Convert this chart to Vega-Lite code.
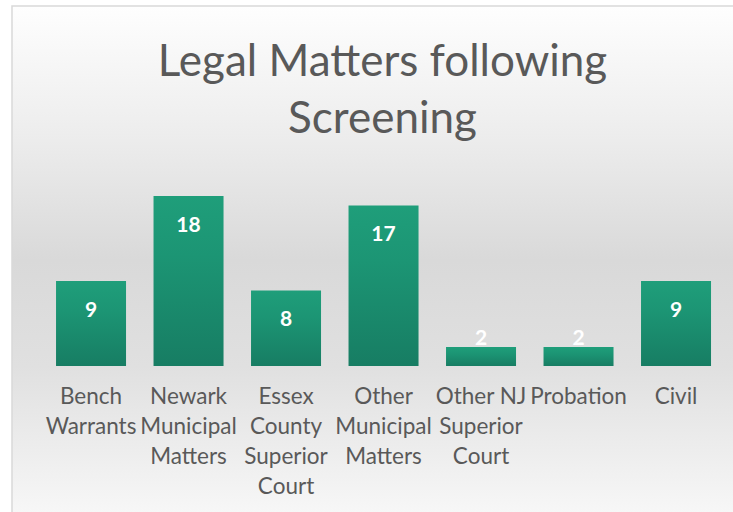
{
  "$schema": "https://vega.github.io/schema/vega-lite/v6.json",
  "width": 725,
  "height": 508,
  "autosize": {"type": "none"},
  "padding": {"left": 12, "top": 6, "right": 0, "bottom": 0},
  "background": "#ffffff",
  "config": {
    "view": {
      "stroke": "#d9d9d9",
      "strokeWidth": 1.5,
      "fill": {
        "gradient": "linear",
        "x1": 0, "y1": 0, "x2": 0, "y2": 1,
        "stops": [
          {"offset": 0, "color": "#fefefe"},
          {"offset": 0.265, "color": "#ececec"},
          {"offset": 0.5, "color": "#d9d9d9"},
          {"offset": 0.71, "color": "#e0e0e0"},
          {"offset": 1, "color": "#f7f7f7"}
        ]
      }
    }
  },
  "title": {
    "text": ["Legal Matters following", "Screening"],
    "font": "Lato",
    "fontSize": 44,
    "fontWeight": "normal",
    "color": "#595959",
    "lineHeight": 57,
    "anchor": "middle",
    "frame": "group",
    "baseline": "top",
    "offset": -136,
    "dx": 8
  },
  "data": {
    "values": [
      {"label": "Bench|Warrants", "value": 9},
      {"label": "Newark|Municipal|Matters", "value": 18},
      {"label": "Essex|County|Superior|Court", "value": 8},
      {"label": "Other|Municipal|Matters", "value": 17},
      {"label": "Other NJ|Superior|Court", "value": 2},
      {"label": "Probation", "value": 2},
      {"label": "Civil", "value": 9}
    ]
  },
  "encoding": {
    "x": {
      "field": "label",
      "type": "nominal",
      "sort": null,
      "scale": {"paddingInner": 0.282, "paddingOuter": 0.359, "align": 0.629},
      "axis": {
        "title": null,
        "labelExpr": "split(datum.value, '|')",
        "labelAngle": 0,
        "labelFont": "Lato",
        "labelFontSize": 22.5,
        "labelColor": "#595959",
        "labelLineHeight": 30,
        "labelBaseline": "top",
        "labelPadding": 19,
        "labelOverlap": false,
        "labelLimit": 0,
        "domain": false,
        "ticks": false,
        "grid": false,
        "offset": -148
      }
    }
  },
  "layer": [
    {
      "mark": {
        "type": "bar",
        "color": {
          "gradient": "linear",
          "x1": 0, "y1": 0, "x2": 0, "y2": 1,
          "stops": [
            {"offset": 0, "color": "#1f9e7a"},
            {"offset": 0.35, "color": "#1c9574"},
            {"offset": 1, "color": "#177d63"}
          ]
        }
      },
      "encoding": {
        "y": {
          "field": "value",
          "type": "quantitative",
          "scale": {"domain": [-15.67, 38.12], "nice": false, "zero": false},
          "axis": null
        },
        "y2": {"datum": 0}
      }
    },
    {
      "mark": {
        "type": "text",
        "font": "Lato",
        "fontSize": 21,
        "fontWeight": "bold",
        "color": "#ffffff",
        "baseline": "middle",
        "dy": {"expr": "datum.value < 4 ? -8 : 30"}
      },
      "encoding": {
        "y": {"field": "value", "type": "quantitative"},
        "text": {"field": "value", "type": "quantitative"}
      }
    }
  ]
}
